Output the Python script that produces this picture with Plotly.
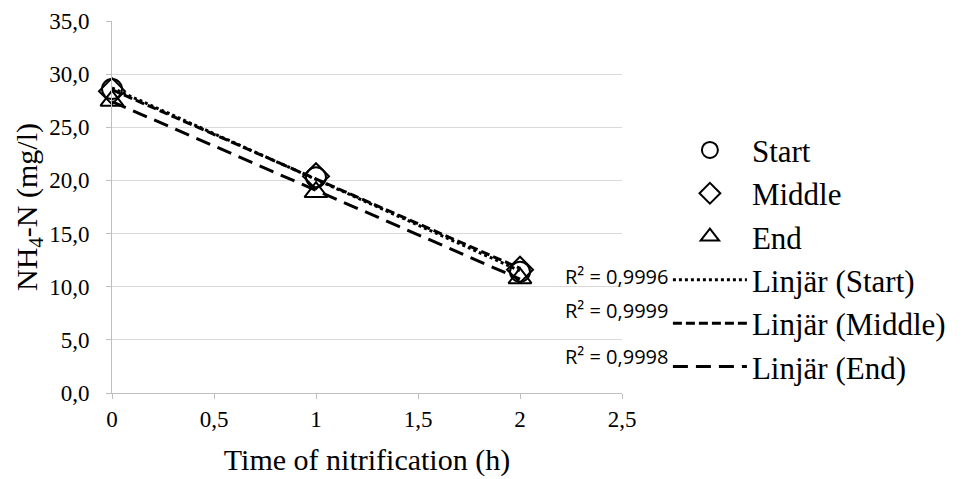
import numpy as np
import plotly.graph_objects as go

# Data
hours = [0, 1, 2]
start_vals = [28.6, 20.3, 11.4]
middle_vals = [28.4, 20.4, 11.6]
end_vals = [27.5, 18.9, 10.8]
series_names = ["Start", "Middle", "End"]
trend_names = ["Linjär (Start)", "Linjär (Middle)", "Linjär (End)"]
r2_labels = ["R² = 0,9996", "R² = 0,9999", "R² = 0,9998"]
x_ticks = [0, 0.5, 1, 1.5, 2, 2.5]
y_ticks = [0, 5, 10, 15, 20, 25, 30, 35]

SERIF = "Times New Roman, Liberation Serif, serif"
SERIF_FONT = lambda s: dict(family=SERIF, size=s, color="black")
symbols = ["circle-open", "diamond-open", "triangle-up-open"]
dashes = ["3px,3px", "9px,4px", "15px,8px"]
all_vals = [start_vals, middle_vals, end_vals]

fig = go.Figure()
for name, vals, sym in zip(series_names, all_vals, symbols):
    fig.add_trace(go.Scatter(
        x=hours, y=vals, mode="markers", name=name, cliponaxis=False,
        marker=dict(symbol=sym, size=20, color="black", line=dict(width=2, color="black")),
    ))
for name, vals, dash in zip(trend_names, all_vals, dashes):
    slope, intercept = np.polyfit(hours, vals, 1)
    xs = [hours[0], hours[-1]]
    ys = [intercept + slope * x for x in xs]
    fig.add_trace(go.Scatter(
        x=xs, y=ys, mode="lines", name=name, cliponaxis=False,
        line=dict(color="black", width=3, dash=dash),
    ))

# R² annotations (paper coords)
r2_pos = [(0.99, 0.312), (0.99, 0.223), (0.99, 0.097)]
for txt, (px, py) in zip(r2_labels, r2_pos):
    fig.add_annotation(
        text=txt, xref="paper", yref="paper", x=px, y=py,
        xanchor="center", yanchor="middle", showarrow=False,
        font=dict(family="Open Sans", size=20, color="black"),
    )

fig.update_layout(
    width=963, height=479,
    margin=dict(l=112, r=338, t=21, b=86, pad=0),
    plot_bgcolor="white", paper_bgcolor="white",
    font=SERIF_FONT(20),
    showlegend=True,
    legend=dict(
        x=1.09, y=0.725, xanchor="left", yanchor="top",
        font=SERIF_FONT(31),
        itemwidth=74, tracegroupgap=0, bgcolor="rgba(0,0,0,0)",
        borderwidth=0,
    ),
    xaxis=dict(
        range=[0, 2.5], tickvals=x_ticks,
        showgrid=False, zeroline=False,
        showline=True, linecolor="#bfbfbf", linewidth=1,
        ticks="outside", ticklen=5, tickcolor="#bfbfbf",
        tickfont=SERIF_FONT(23),
        title=dict(text="Time of nitrification (h)", font=SERIF_FONT(30), standoff=18),
        automargin=False,
    ),
    yaxis=dict(
        range=[0, 35], tickvals=y_ticks, tickformat=".1f",
        showgrid=True, gridcolor="#d9d9d9", gridwidth=1,
        zeroline=False,
        showline=True, linecolor="#bfbfbf", linewidth=1,
        ticks="outside", ticklen=5, tickcolor="#bfbfbf",
        ticklabelstandoff=12,
        tickfont=SERIF_FONT(23),
        title=dict(text="NH<sub>4</sub>-N (mg/l)", font=SERIF_FONT(30), standoff=2),
        automargin=False,
    ),
    separators=", ",
)

fig.write_html(
    "out.html",
    config={"displayModeBar": False},
    post_script="document.body.style.margin='0';document.body.style.padding='0';",
)
